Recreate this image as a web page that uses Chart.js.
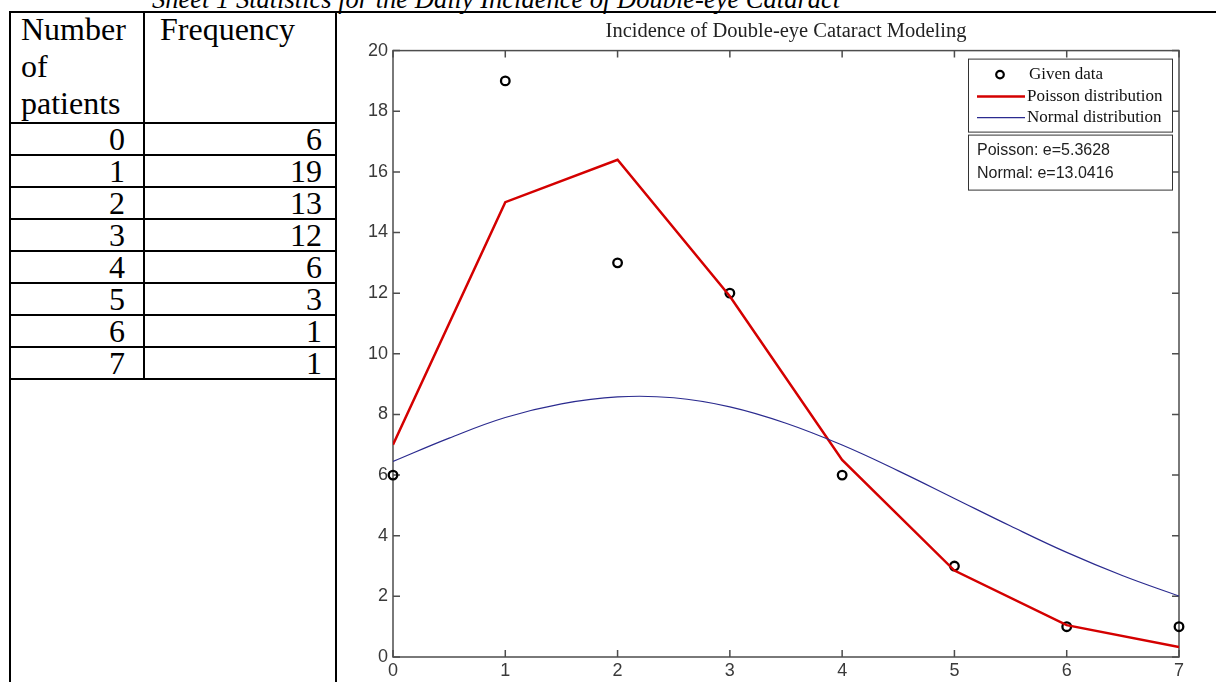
<!DOCTYPE html>
<html>
<head>
<meta charset="utf-8">
<title>Double-eye Cataract</title>
<script src="https://cdn.jsdelivr.net/npm/chart.js@4.4.1/dist/chart.umd.min.js"></script>
<style>
  body { margin: 0; background: #fff; width: 1216px; height: 682px; overflow: hidden; position: relative;
         font-family: 'Liberation Serif', 'Times New Roman', serif; color: #000; }
  .caption { position: absolute; left: 152px; top: -14px; font-style: italic; font-size: 26.5px;
             line-height: 26.5px; white-space: nowrap; }
  .frame { position: absolute; left: 9px; top: 11px; width: 1400px; height: 800px;
           border-left: 2px solid #000; border-top: 2px solid #000; }
  .split { position: absolute; left: 335px; top: 11px; width: 2px; height: 700px; background: #000; }
  table { position: absolute; left: 11px; top: 13px; border-collapse: separate; border-spacing: 0;
          table-layout: fixed; font-size: 32px; }
  td { box-sizing: border-box; border-right: 2px solid #000; border-bottom: 2px solid #000;
       padding: 0; vertical-align: top; }
  td.c1 { width: 134px; }
  td.c2 { width: 192px; }
  tr.head td { height: 111px; line-height: 37px; }
  tr.head td div { margin-top: -2px; }
  tr.head td.c1 { padding-left: 10px; }
  tr.head td.c2 { padding-left: 15px; }
  tr.row td { height: 32px; line-height: 30px; text-align: right; }
  tr.row td.c1 { padding-right: 18px; }
  tr.row td.c2 { padding-right: 13px; }
  .plot { position: absolute; left: 338px; top: 13px; width: 878px; height: 669px; }
</style>
</head>
<body>
<div class="caption">Sheet 1 Statistics for the Daily Incidence of Double-eye Cataract</div>
<div class="frame"></div>
<div class="split"></div>
<table id="freq-table">
  <tr class="head"><td class="c1"><div>Number of patients</div></td><td class="c2"><div>Frequency</div></td></tr>
</table>
<div class="plot"><canvas id="chart-1"></canvas></div>

<script>
// observed counts per day
const patients = [0, 1, 2, 3, 4, 5, 6, 7];
const frequency = [6, 19, 13, 12, 6, 3, 1, 1];

// fitted curves
const poissonFit = [7.0, 15.0, 16.4, 11.9, 6.5, 2.85, 1.05, 0.33];
const normalX = [0, 0.5, 1, 1.5, 2, 2.5, 3, 3.5, 4, 4.5, 5, 5.5, 6, 6.5, 7];
const normalFit = [6.45, 7.22, 7.9, 8.35, 8.58, 8.55, 8.25, 7.71, 6.99, 6.14, 5.23, 4.32, 3.45, 2.68, 2.01];

const legendLabels = ['Given data', 'Poisson distribution', 'Normal distribution'];
const errorNotes = ['Poisson: e=5.3628', 'Normal: e=13.0416'];

// fill the frequency table
const table = document.getElementById('freq-table');
patients.forEach((n, i) => {
    const tr = document.createElement('tr');
    tr.className = 'row';
    tr.innerHTML = '<td class="c1">' + n + '</td><td class="c2">' + frequency[i] + '</td>';
    table.appendChild(tr);
});

const axisColor = '#4d4d4d';
const poissonColor = '#d40000';
const normalColor = '#2b2b8f';

// matlab style box with inward ticks on all four sides
const boxAxes = {
    id: 'boxAxes',
    beforeDatasetsDraw(chart) {
        const { ctx, chartArea: a, scales: { x, y } } = chart;
        ctx.save();
        ctx.strokeStyle = axisColor;
        ctx.lineWidth = 1.5;
        ctx.strokeRect(a.left, a.top, a.right - a.left, a.bottom - a.top);
        ctx.beginPath();
        x.ticks.forEach(t => {
            const px = x.getPixelForValue(t.value);
            ctx.moveTo(px, a.bottom); ctx.lineTo(px, a.bottom - 7);
            ctx.moveTo(px, a.top); ctx.lineTo(px, a.top + 7);
        });
        y.ticks.forEach(t => {
            const py = y.getPixelForValue(t.value);
            ctx.moveTo(a.left, py); ctx.lineTo(a.left + 7, py);
            ctx.moveTo(a.right, py); ctx.lineTo(a.right - 7, py);
        });
        ctx.stroke();
        ctx.restore();
    }
};

// legend and error box in the upper right corner
const cornerBoxes = {
    id: 'cornerBoxes',
    afterDraw(chart) {
        const { ctx, chartArea: a } = chart;
        const w = 204;
        const left = a.right - 7 - w;
        const top = a.top + 8;
        ctx.save();
        ctx.fillStyle = '#fff';
        ctx.strokeStyle = '#333';
        ctx.lineWidth = 1;
        ctx.fillRect(left, top, w, 73);
        ctx.strokeRect(left + 0.5, top + 0.5, w, 73);
        ctx.fillRect(left, top + 76, w, 55);
        ctx.strokeRect(left + 0.5, top + 76.5, w, 55);

        const rows = [top + 16, top + 38, top + 59];
        // marker
        ctx.strokeStyle = '#000';
        ctx.lineWidth = 2.2;
        ctx.beginPath();
        ctx.arc(left + 32, rows[0], 3.8, 0, Math.PI * 2);
        ctx.stroke();
        // lines
        ctx.lineWidth = 2.5;
        ctx.strokeStyle = poissonColor;
        ctx.beginPath(); ctx.moveTo(left + 9, rows[1]); ctx.lineTo(left + 57, rows[1]); ctx.stroke();
        ctx.lineWidth = 1.2;
        ctx.strokeStyle = normalColor;
        ctx.beginPath(); ctx.moveTo(left + 9, rows[2]); ctx.lineTo(left + 57, rows[2]); ctx.stroke();

        ctx.fillStyle = '#111';
        ctx.textBaseline = 'middle';
        ctx.font = '17px "Liberation Serif"';
        legendLabels.forEach((s, i) => ctx.fillText(s, left + (i === 0 ? 61 : 59), rows[i]));

        ctx.font = '16px "Liberation Sans"';
        ctx.fillStyle = '#222';
        errorNotes.forEach((s, i) => ctx.fillText(s, left + 9, top + 92 + i * 23));
        ctx.restore();
    }
};

const tickFont = { family: 'Liberation Sans', size: 18 };

const ctx = document.getElementById('chart-1');
new Chart(ctx, {
    type: 'scatter',
    data: {
        datasets: [{
            label: legendLabels[0],
            data: patients.map((p, i) => ({ x: p, y: frequency[i] })),
            pointStyle: 'circle',
            pointRadius: 4.3,
            pointBorderWidth: 2.3,
            pointBorderColor: '#000',
            pointBackgroundColor: 'transparent',
            showLine: false,
            clip: false,
            order: 3
        }, {
            label: legendLabels[1],
            data: patients.map((p, i) => ({ x: p, y: poissonFit[i] })),
            showLine: true,
            borderColor: poissonColor,
            borderWidth: 2.5,
            pointRadius: 0,
            tension: 0,
            order: 2
        }, {
            label: legendLabels[2],
            data: normalX.map((v, i) => ({ x: v, y: normalFit[i] })),
            showLine: true,
            borderColor: normalColor,
            borderWidth: 1.2,
            pointRadius: 0,
            tension: 0.4,
            order: 1
        }]
    },
    options: {
        responsive: true,
        maintainAspectRatio: false,
        animation: false,
        layout: { padding: { right: 37 } },
        scales: {
            x: {
                type: 'linear',
                min: 0,
                max: 7,
                ticks: { stepSize: 1, padding: 3, color: '#3a3a3a', font: tickFont },
                grid: { display: false, drawTicks: false },
                border: { display: false },
                afterFit(scale) { scale.height = 25; }
            },
            y: {
                min: 0,
                max: 20,
                ticks: { stepSize: 2, padding: 5, color: '#3a3a3a', font: tickFont },
                grid: { display: false, drawTicks: false },
                border: { display: false },
                afterFit(scale) { scale.width = 55; }
            }
        },
        plugins: {
            legend: { display: false },
            tooltip: { enabled: false },
            title: {
                display: true,
                fullSize: false,
                text: 'Incidence of Double-eye Cataract Modeling',
                color: '#222',
                font: { family: 'Liberation Serif', size: 20.5, weight: 'normal' },
                padding: { top: 6, bottom: 7 }
            }
        }
    },
    plugins: [boxAxes, cornerBoxes]
});
</script>
</body>
</html>
